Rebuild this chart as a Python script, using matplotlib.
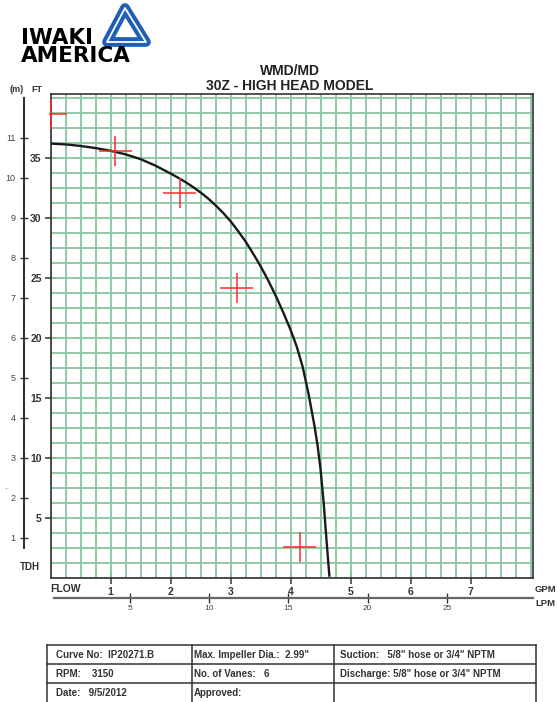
import matplotlib
matplotlib.use("Agg")
import matplotlib.pyplot as plt
from matplotlib.patches import Polygon
from matplotlib.transforms import Bbox, TransformedBbox
import numpy as np

plt.rcParams['font.family'] = ['Liberation Sans', 'DejaVu Sans']

# ---- data ----
curve_gpm = [0, 0.25, 0.5, 0.75, 1.0, 1.25, 1.5, 1.75, 2.0, 2.125, 2.25, 2.375, 2.5, 2.625,
             2.75, 2.875, 3.0, 3.125, 3.25, 3.375, 3.5, 3.625, 3.75, 3.875, 4.0, 4.1, 4.2,
             4.3, 4.4, 4.45, 4.5, 4.55, 4.6, 4.645]
curve_ft = [36.2, 36.13, 36.0, 35.82, 35.6, 35.3, 34.9, 34.35, 33.7, 33.35, 32.98, 32.57, 32.12, 31.62,
            31.05, 30.42, 29.72, 28.9, 28.03, 27.03, 25.97, 24.8, 23.53, 22.15, 20.66, 19.3, 17.6,
            15.3, 12.6, 11.0, 9.0, 6.3, 3.0, 0.2]
test_gpm = [0.0, 1.08, 2.15, 3.1, 4.15]
test_ft = [38.7, 35.6, 32.1, 24.2, 2.55]
gpm_ticks = [1, 2, 3, 4, 5, 6, 7]
ft_ticks = [5, 10, 15, 20, 25, 30, 35]
m_ticks = [1, 2, 3, 4, 5, 6, 7, 8, 9, 10, 11]
lpm_ticks = [5, 10, 15, 20, 25]
title_lines = ["WMD/MD", "30Z - HIGH HEAD MODEL"]
table_rows = [
    ["Curve No:  IP20271.B", "Max. Impeller Dia.:  2.99\"", "Suction:   5/8\" hose or 3/4\" NPTM"],
    ["RPM:    3150", "No. of Vanes:   6", "Discharge: 5/8\" hose or 3/4\" NPTM"],
    ["Date:   9/5/2012", "Approved:", ""],
]

W, H = 557, 702
fig = plt.figure(figsize=(W / 100, H / 100), dpi=100)

def fx(px):
    return px / W

def fy(py):
    return 1 - py / H

GRID = '#8cc8a4'
DARK = '#333333'

ax = fig.add_axes([fx(50.7), fy(578), (533 - 50.7) / W, (578 - 94) / H])
ax.set_xlim(0, 8.04)
ax.set_ylim(0, 40.33)

ax.set_xticks(np.arange(0, 8.01, 0.25), minor=True)
ax.set_yticks(np.arange(0, 40.1, 1.25), minor=True)
ax.xaxis.remove_overlapping_locs = False
ax.yaxis.remove_overlapping_locs = False
ax.grid(which='minor', color=GRID, lw=1.35)
ax.grid(which='major', visible=False)
ax.tick_params(which='minor', length=0)
ax.set_axisbelow(True)

ax.set_xticks(gpm_ticks)
ax.set_xticklabels([str(t) for t in gpm_ticks], fontsize=7.5, fontweight='bold', color=DARK)
ax.set_yticks(ft_ticks)
ax.set_yticklabels([str(t) for t in ft_ticks], fontsize=7.5, fontweight='bold', color=DARK)
ax.tick_params(which='major', direction='inout', length=9, width=1.1, color=DARK, pad=2)
for s in ax.spines.values():
    s.set_color(DARK)
    s.set_linewidth(1.2)

ax.plot(curve_gpm, curve_ft, color='#1a1a1a', lw=1.7, zorder=3, solid_joinstyle='round')
eb = ax.errorbar(test_gpm, test_ft, xerr=0.28, yerr=1.25, fmt='none', ecolor='#ff2a2a',
                 elinewidth=1.1, capsize=0, zorder=4)
clipbox = TransformedBbox(Bbox([[-0.004, 0], [1, 1]]), ax.transAxes)
for lc in eb.lines[2]:
    lc.set_clip_box(clipbox)

# meter axis (as drawn: 1 m = 10/3 ft)
sec = ax.secondary_yaxis((24 - 50.7) / 482.3, functions=(lambda f: f * 0.3, lambda m: m / 0.3))
sec.set_yticks(m_ticks)
sec.set_yticklabels([str(t) for t in m_ticks], fontsize=6.5, color='#444444')
sec.tick_params(direction='inout', length=6, width=1, color=DARK, pad=3)
sec.spines['left'].set_bounds(0.75, 12.0)
sec.spines['left'].set_color(DARK)
sec.spines['left'].set_linewidth(1.5)

# LPM axis
secx = ax.secondary_xaxis(-(597.5 - 578) / 484, functions=(lambda g: g * 3.785, lambda l: l / 3.785))
secx.set_xticks(lpm_ticks)
secx.set_xticklabels([str(t) for t in lpm_ticks], fontsize=6, color='#444444')
secx.tick_params(direction='inout', length=7, width=1, color=DARK, pad=2)
secx.spines['bottom'].set_bounds(0.2, 30.4)
secx.spines['bottom'].set_color('#666666')
secx.spines['bottom'].set_linewidth(1.6)

# labels
fig.text(fx(50), fy(589), "FLOW", fontsize=7.5, fontweight='bold', color=DARK, va='center', ha='left')
fig.text(fx(535), fy(589), "GPM", fontsize=6.8, fontweight='bold', color=DARK, va='center', ha='left')
fig.text(fx(535), fy(604), "LPM", fontsize=6.8, fontweight='bold', color=DARK, va='center', ha='left')
fig.text(fx(9), fy(90), "(m)", fontsize=6.5, fontweight='bold', color=DARK, va='center', ha='left')
fig.text(fx(31), fy(90), "FT", fontsize=6.5, fontweight='bold', color=DARK, va='center', ha='left')
fig.text(fx(20), fy(567), "TDH", fontsize=7, fontweight='bold', color=DARK, va='center', ha='left')
fig.text(fx(4), fy(486), ".", fontsize=7, color=DARK, va='center', ha='left')

fig.text(fx(290), fy(71), title_lines[0], fontsize=10, fontweight='bold', color='#222222', ha='center', va='center')
fig.text(fx(290), fy(86), title_lines[1], fontsize=10, fontweight='bold', color='#222222', ha='center', va='center')

# logo
tri = [(fx(125), fy(8)), (fx(146), fy(42)), (fx(107), fy(42))]
fig.patches.append(Polygon(tri, closed=True, fill=False, edgecolor='#1f5fb5', lw=7, joinstyle='round', transform=fig.transFigure))
fig.patches.append(Polygon(tri, closed=True, fill=False, edgecolor='white', lw=1.3, joinstyle='round', transform=fig.transFigure))
fig.text(fx(21), fy(28), "IWAKI\nAMERICA", fontsize=15.5, fontweight='bold', family='DejaVu Sans',
         color='black', ha='left', va='top', linespacing=0.86)

# table
tx = [47.3, 191.7, 334.3, 535.5]
ty = [645, 664.3, 683.3, 710]
for y in ty[:3]:
    fig.add_artist(plt.Line2D([fx(tx[0]), fx(tx[-1])], [fy(y), fy(y)], color=DARK, lw=1.1, transform=fig.transFigure))
for x in tx:
    fig.add_artist(plt.Line2D([fx(x), fx(x)], [fy(ty[0]), fy(ty[-1])], color=DARK, lw=1.1, transform=fig.transFigure))
col_x = [56, 194, 340]
for r, row in enumerate(table_rows):
    yc = (ty[r] + ty[r + 1]) / 2 if r < 2 else 693
    for c, txt in enumerate(row):
        if txt:
            fig.text(fx(col_x[c]), fy(yc), txt, fontsize=7, fontweight='bold', color=DARK, ha='left', va='center')

fig.savefig("out.png", dpi=100)
